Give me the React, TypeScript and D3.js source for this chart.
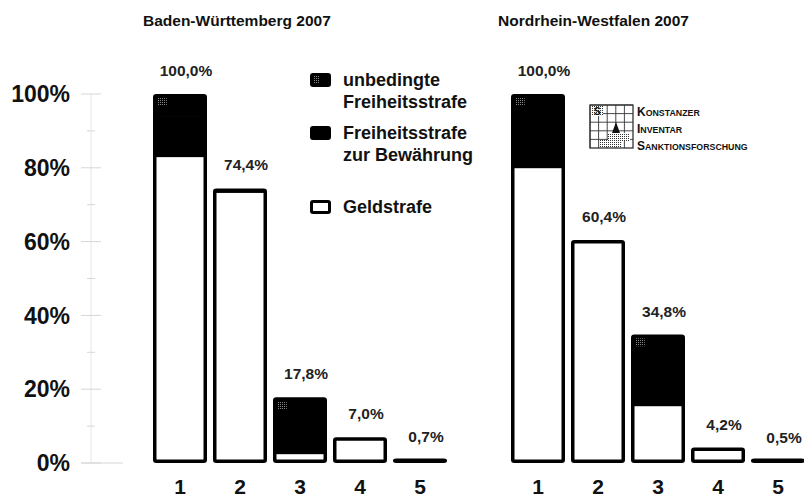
import React from "react";
import * as d3 from "d3";

// categories on the x axis
const categories = ["1", "2", "3", "4", "5"];

// Baden-Württemberg 2007 (percent)
const bwGeld = [83.5, 73.8, 3.0, 7.0, 0.7];
const bwBewaehrung = [11.0, 0.6, 10.8, 0, 0];
const bwUnbedingt = [5.5, 0, 4.0, 0, 0];

// Nordrhein-Westfalen 2007 (percent)
const nrwGeld = [80.5, 60.4, 16.0, 4.2, 0.5];
const nrwBewaehrung = [13.5, 0, 12.8, 0, 0];
const nrwUnbedingt = [6.0, 0, 6.0, 0, 0];

const yTicks = [0, 10, 20, 30, 40, 50, 60, 70, 80, 90, 100];

const legendItems = [
  { key: "unbedingt", lines: ["unbedingte", "Freiheitsstrafe"] },
  { key: "bewaehrung", lines: ["Freiheitsstrafe", "zur Bewährung"] },
  { key: "geld", lines: ["Geldstrafe"] },
];

const panels = [
  { title: "Baden-Württemberg 2007", geld: bwGeld, bew: bwBewaehrung, unb: bwUnbedingt, x0: 150, titleX: 143 },
  { title: "Nordrhein-Westfalen 2007", geld: nrwGeld, bew: nrwBewaehrung, unb: nrwUnbedingt, x0: 508, titleX: 498 },
];

const font = "'Liberation Sans', Arial, sans-serif";
const fmt = (v: number) => d3.format(".1f")(v).replace(".", ",") + "%";

const y = d3.scaleLinear().domain([0, 100]).range([463, 94]);
const SW = 3.5;

function Panel({ p }: { p: (typeof panels)[number] }) {
  const x = d3
    .scaleBand<string>()
    .domain(categories)
    .range([p.x0, p.x0 + 300])
    .paddingInner(0.1)
    .paddingOuter(0.05);
  const bw = x.bandwidth();

  return (
    <g>
      <text x={p.titleX} y={26} fontSize={15.5} fontWeight="bold" fontFamily={font} fill="#111">
        {p.title}
      </text>
      {categories.map((c, i) => {
        const g = p.geld[i];
        const b = p.bew[i];
        const u = p.unb[i];
        const total = g + b + u;
        const bx = x(c)! + SW / 2;
        const w = bw - SW;
        const inner = (v0: number, v1: number) => ({
          y: y(v1) + SW / 2,
          h: Math.max(0, y(v0) - y(v1)),
        });
        const top = y(total);
        const gSeg = inner(0, g);
        const bSeg = inner(g, g + b);
        const uSeg = inner(g + b, total);
        return (
          <g key={c}>
            <rect x={bx} y={gSeg.y} width={w} height={gSeg.h} fill="#fff" />
            {b > 0 && <rect x={bx} y={bSeg.y} width={w} height={bSeg.h + 0.5} fill="#000" />}
            {u > 0 && (
              <>
                <rect x={bx} y={uSeg.y} width={w} height={uSeg.h + 0.5} fill="#000" />
                <rect x={bx + 3} y={uSeg.y + 2} width={9} height={8} fill="url(#dither)" />
              </>
            )}
            <rect
              x={bx}
              y={Math.min(top + SW / 2, y(0) - SW / 2 - 1)}
              width={w}
              height={Math.max(1, y(0) - top - SW)}
              fill="none"
              stroke="#000"
              strokeWidth={SW}
              rx={1.5}
            />
            <text
              x={x(c)! + bw / 2 + 6}
              y={top - 18}
              textAnchor="middle"
              fontSize={15.5}
              fontWeight="bold"
              fontFamily={font}
              fill="#222"
            >
              {fmt(total)}
            </text>
            <text
              x={x(c)! + bw / 2}
              y={494}
              textAnchor="middle"
              fontSize={21}
              fontWeight="bold"
              fontFamily={font}
              fill="#111"
            >
              {c}
            </text>
          </g>
        );
      })}
    </g>
  );
}

function Logo() {
  const lx = 590;
  const ly = 105;
  const s = 43;
  const cells = d3.range(0, 5);
  return (
    <g>
      <rect x={lx} y={ly} width={s} height={s} fill="#fff" stroke="#222" strokeWidth={1.2} />
      {cells.map((k) => (
        <g key={k}>
          <line x1={lx + (k * s) / 5} x2={lx + (k * s) / 5} y1={ly} y2={ly + s} stroke="#333" strokeWidth={0.9} />
          <line x1={lx} x2={lx + s} y1={ly + (k * s) / 5} y2={ly + (k * s) / 5} stroke="#333" strokeWidth={0.9} />
        </g>
      ))}
      <rect x={lx + 1} y={ly + 1} width={12} height={10} fill="url(#hatch)" />
      <text x={lx + 4} y={ly + 10} fontSize={10} fontWeight="bold" fontFamily={font} fill="#111">S</text>
      <path d={`M${lx + 22},${ly + 28} L${lx + 26},${ly + 17} L${lx + 30},${ly + 28} Z`} fill="#111" />
      <rect x={lx + 18} y={ly + 28} width={22} height={8} fill="url(#hatch)" />
      <rect x={lx + 10} y={ly + 35} width={22} height={7} fill="url(#hatch)" />
      <text fontFamily={font} fill="#111" fontWeight={600}>
        <tspan x={637} y={116} fontSize={12}>K</tspan>
        <tspan fontSize={8.8}>ONSTANZER</tspan>
        <tspan x={637} y={133} fontSize={12}>I</tspan>
        <tspan fontSize={8.8}>NVENTAR</tspan>
        <tspan x={637} y={150} fontSize={12}>S</tspan>
        <tspan fontSize={8.8}>ANKTIONSFORSCHUNG</tspan>
      </text>
    </g>
  );
}

export default function App() {
  const legendY = [73, 126, 200];
  return (
    <svg
      width={804}
      height={499}
      style={{ position: "absolute", left: 0, top: 0, background: "#fff" }}
    >
      <defs>
        <pattern id="dither" width={2} height={2} patternUnits="userSpaceOnUse">
          <rect width={2} height={2} fill="#000" />
          <rect width={1} height={1} fill="#888" />
        </pattern>
        <pattern id="hatch" width={2} height={2} patternUnits="userSpaceOnUse">
          <rect width={2} height={2} fill="#fff" />
          <rect width={1} height={1} fill="#333" />
        </pattern>
      </defs>
      <rect width={804} height={499} fill="#fff" />

      {/* y axis */}
      <line x1={91} x2={91} y1={y(100)} y2={y(0)} stroke="#e6e6e6" strokeWidth={1} />
      <line x1={81} x2={123} y1={y(0)} y2={y(0)} stroke="#d6d6d6" strokeWidth={1} />
      {yTicks.map((t) => (
        <g key={t}>
          <line
            x1={t % 20 === 0 ? 81 : 87}
            x2={t % 20 === 0 ? 101 : 95}
            y1={y(t)}
            y2={y(t)}
            stroke="#d6d6d6"
            strokeWidth={1}
          />
          {t % 20 === 0 && (
            <text
              x={70}
              y={y(t)}
              dy="0.36em"
              textAnchor="end"
              fontSize={23}
              fontWeight="bold"
              fontFamily={font}
              fill="#111"
            >
              {t}%
            </text>
          )}
        </g>
      ))}

      {panels.map((p) => (
        <Panel key={p.title} p={p} />
      ))}

      {/* legend */}
      {legendItems.map((it, i) => (
        <g key={it.key}>
          <rect
            x={311.5}
            y={legendY[i] + 1.5}
            width={18}
            height={11}
            rx={1.5}
            fill={it.key === "geld" ? "#fff" : "#000"}
            stroke="#000"
            strokeWidth={3}
          />
          {it.key === "unbedingt" && (
            <rect x={314} y={legendY[i] + 3} width={6} height={7} fill="url(#dither)" />
          )}
          {it.lines.map((l, j) => (
            <text
              key={l}
              x={343}
              y={legendY[i] + 13 + j * 22}
              fontSize={18}
              fontWeight="bold"
              fontFamily={font}
              fill="#111"
            >
              {l}
            </text>
          ))}
        </g>
      ))}

      <Logo />
    </svg>
  );
}
